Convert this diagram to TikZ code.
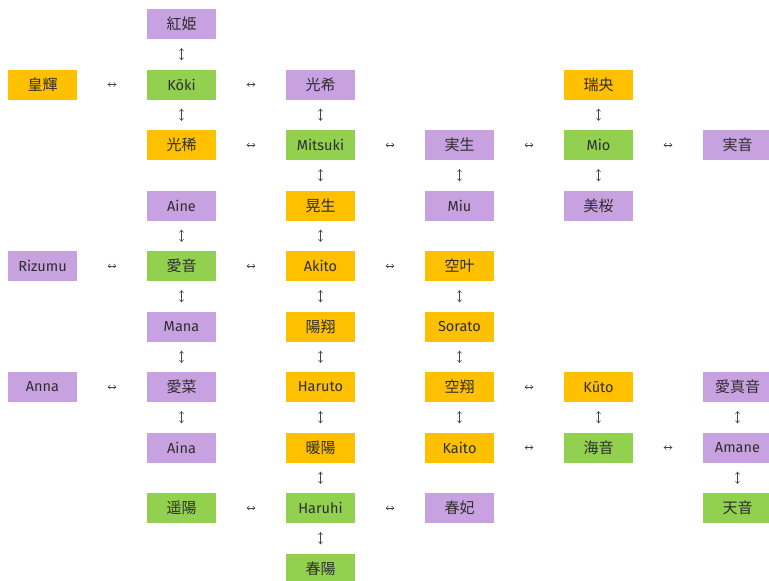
\documentclass[tikz,border=0pt]{standalone}
\usepackage{fontspec}
\setmainfont{Fira Sans}
\newfontfamily\cjkfont{Noto Sans CJK JP}
\usetikzlibrary{arrows.meta}
\definecolor{corange}{HTML}{FFC000}
\definecolor{cgreen}{HTML}{92D050}
\definecolor{cpurple}{HTML}{C8A2E0}
\definecolor{ctext}{HTML}{2E2E2E}
\definecolor{carrow}{HTML}{444444}
\tikzset{
  box/.style={minimum width=69pt, minimum height=30pt, inner sep=0pt, text=ctext,
    font=\fontsize{14.5}{16}\selectfont},
  jp/.style={font=\cjkfont\fontsize{15}{16}\selectfont},
  po/.style={box, fill=corange},
  pg/.style={box, fill=cgreen},
  pp/.style={box, fill=cpurple},
  tip/.style={>={Straight Barb[length=2.2pt,width=4pt,line width=0.6pt]}},
  harr/.style={tip, draw=carrow, line width=0.6pt, <->, shorten <=30.5pt, shorten >=30.5pt},
  varr/.style={tip, draw=carrow, line width=0.6pt, <->, shorten <=9pt, shorten >=9pt}
}
\begin{document}
\begin{tikzpicture}[x=1pt, y=-1pt]
\useasboundingbox (0,0) rectangle (769,581);
\def\ca{42.5}\def\cb{181.5}\def\cc{320.5}\def\cd{459.5}\def\ce{598.5}\def\cf{737.5}
% row 0
\node[pp,jp] (n01) at (\cb,24) {紅姫};
% row 1
\node[po,jp] (n10) at (\ca,84.5) {皇輝};
\node[pg] (n11) at (\cb,84.5) {Kōki};
\node[pp,jp] (n12) at (\cc,84.5) {光希};
\node[po,jp] (n14) at (\ce,84.5) {瑞央};
% row 2
\node[po,jp] (n21) at (\cb,145) {光稀};
\node[pg] (n22) at (\cc,145) {Mitsuki};
\node[pp,jp] (n23) at (\cd,145) {実生};
\node[pg] (n24) at (\ce,145) {Mio};
\node[pp,jp] (n25) at (\cf,145) {実音};
% row 3
\node[pp] (n31) at (\cb,205.5) {Aine};
\node[po,jp] (n32) at (\cc,205.5) {晃生};
\node[pp] (n33) at (\cd,205.5) {Miu};
\node[pp,jp] (n34) at (\ce,205.5) {美桜};
% row 4
\node[pp] (n40) at (\ca,266) {Rizumu};
\node[pg,jp] (n41) at (\cb,266) {愛音};
\node[po] (n42) at (\cc,266) {Akito};
\node[po,jp] (n43) at (\cd,266) {空叶};
% row 5
\node[pp] (n51) at (\cb,326.5) {Mana};
\node[po,jp] (n52) at (\cc,326.5) {陽翔};
\node[po] (n53) at (\cd,326.5) {Sorato};
% row 6
\node[pp] (n60) at (\ca,387) {Anna};
\node[pp,jp] (n61) at (\cb,387) {愛菜};
\node[po] (n62) at (\cc,387) {Haruto};
\node[po,jp] (n63) at (\cd,387) {空翔};
\node[po] (n64) at (\ce,387) {Kūto};
\node[pp,jp] (n65) at (\cf,387) {愛真音};
% row 7
\node[pp] (n71) at (\cb,447.5) {Aina};
\node[po,jp] (n72) at (\cc,447.5) {暖陽};
\node[po] (n73) at (\cd,447.5) {Kaito};
\node[pg,jp] (n74) at (\ce,447.5) {海音};
\node[pp] (n75) at (\cf,447.5) {Amane};
% row 8
\node[pg,jp] (n81) at (\cb,508) {遥陽};
\node[pg] (n82) at (\cc,508) {Haruhi};
\node[pp,jp] (n83) at (\cd,508) {春妃};
\node[pg,jp] (n85) at (\cf,508) {天音};
% row 9
\node[pg,jp] (n92) at (\cc,568.5) {春陽};
% horizontal connectors
\draw[harr] (n10) -- (n11);
\draw[harr] (n11) -- (n12);
\draw[harr] (n21) -- (n22);
\draw[harr] (n22) -- (n23);
\draw[harr] (n23) -- (n24);
\draw[harr] (n24) -- (n25);
\draw[harr] (n40) -- (n41);
\draw[harr] (n41) -- (n42);
\draw[harr] (n42) -- (n43);
\draw[harr] (n60) -- (n61);
\draw[harr] (n63) -- (n64);
\draw[harr] (n73) -- (n74);
\draw[harr] (n74) -- (n75);
\draw[harr] (n81) -- (n82);
\draw[harr] (n82) -- (n83);
% vertical connectors
\draw[varr] (n01) -- (n11);
\draw[varr] (n11) -- (n21);
\draw[varr] (n31) -- (n41);
\draw[varr] (n41) -- (n51);
\draw[varr] (n51) -- (n61);
\draw[varr] (n61) -- (n71);
\draw[varr] (n12) -- (n22);
\draw[varr] (n22) -- (n32);
\draw[varr] (n32) -- (n42);
\draw[varr] (n42) -- (n52);
\draw[varr] (n52) -- (n62);
\draw[varr] (n62) -- (n72);
\draw[varr] (n72) -- (n82);
\draw[varr] (n82) -- (n92);
\draw[varr] (n23) -- (n33);
\draw[varr] (n43) -- (n53);
\draw[varr] (n53) -- (n63);
\draw[varr] (n63) -- (n73);
\draw[varr] (n14) -- (n24);
\draw[varr] (n24) -- (n34);
\draw[varr] (n64) -- (n74);
\draw[varr] (n65) -- (n75);
\draw[varr] (n75) -- (n85);
\end{tikzpicture}
\end{document}
